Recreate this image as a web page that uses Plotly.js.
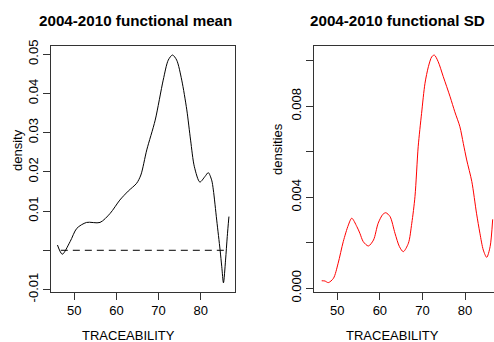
<!DOCTYPE html>
<html>
<head>
<meta charset="utf-8">
<script src="https://cdn.plot.ly/plotly-3.0.1.min.js"></script>
<style>
  html, body { margin: 0; padding: 0; background: #fff; overflow: hidden; }
  #chart { width: 510px; height: 342px; }
</style>
</head>
<body>
<div id="chart"></div>
<script>
// Functional mean of the 2004-2010 traceability densities
const meanX = [46.0, 47.15, 49.0, 50.6, 52.9, 56.1, 58.5, 60.8, 62.8, 64.8, 65.8, 67.2, 69.2,
  71.1, 72.3, 73.3, 74.3, 75.5, 76.7, 77.6, 78.5, 79.8, 81.0, 81.8, 82.6, 83.0, 83.8, 84.6,
  85.0, 85.4, 85.9, 86.3, 86.7];
const meanY = [0.00135, -0.0010, 0.0022, 0.0056, 0.0071, 0.0071, 0.0094, 0.0128, 0.0151, 0.0171,
  0.0192, 0.0256, 0.0332, 0.0434, 0.0485, 0.0498, 0.0485, 0.0434, 0.0358, 0.0281, 0.0213, 0.0174,
  0.0188, 0.0198, 0.0179, 0.0154, 0.0077, 0.0001, -0.0042, -0.0083, -0.0025, 0.0035, 0.0086];

// Reference line at zero density
const zeroX = [46.8, 86.2];
const zeroY = [0, 0];

// Functional standard deviation
const sdX = [46.34, 47.1, 47.9, 49.1, 50.2, 51.4, 52.6, 53.4, 54.6, 55.3, 56.1, 57.3, 58.5, 59.6,
  60.7, 61.4, 62.4, 63.55, 64.6, 65.5, 66.7, 67.5, 68.25, 69.0, 69.8, 70.6, 71.4, 72.2, 72.8,
  73.7, 74.9, 76.5, 77.6, 78.8, 79.6, 80.4, 81.6, 82.7, 83.5, 84.3, 85.1, 85.9, 86.5];
const sdY = [0.00033, 0.00032, 0.00025, 0.00044, 0.0011, 0.00205, 0.00278, 0.00308, 0.00271,
  0.00242, 0.00205, 0.00186, 0.00212, 0.00286, 0.00325, 0.00332, 0.00315, 0.00242, 0.00183,
  0.00161, 0.00198, 0.00286, 0.00403, 0.00622, 0.00769, 0.00901, 0.00974, 0.01018, 0.01025,
  0.00996, 0.0093, 0.00842, 0.00776, 0.0071, 0.00637, 0.00564, 0.00469, 0.0033, 0.00242,
  0.00168, 0.00136, 0.00183, 0.00303];

// Tick marks and labels
const xTicks = [50, 60, 70, 80];
const meanTicks = [-0.01, 0, 0.01, 0.02, 0.03, 0.04, 0.05];
const meanTickText = ['-0.01', '', '0.01', '0.02', '0.03', '0.04', '0.05'];
const sdTicks = [0, 0.002, 0.004, 0.006, 0.008, 0.010];
const sdTickText = ['0.000', '', '0.004', '', '0.008', ''];

const W = 510, H = 342;
const px = v => v / W;
const py = v => 1 - v / H;
const FONT = 'Liberation Sans, Arial, Helvetica, sans-serif';
const INK = '#333333';

function xAxis(domain, range) {
  return {
    domain: domain, range: range, tickvals: xTicks, ticktext: xTicks.map(String),
    ticks: 'outside', ticklen: 7, tickcolor: INK, tickwidth: 1,
    showline: true, mirror: true, linecolor: INK, linewidth: 1,
    showgrid: false, zeroline: false, fixedrange: true,
    tickfont: { family: FONT, size: 13, color: '#000' }
  };
}
function yAxis(domain, range, vals, text) {
  return {
    domain: domain, range: range, tickvals: vals, ticktext: text, tickangle: -90,
    ticks: 'outside', ticklen: 7, tickcolor: INK, tickwidth: 1,
    showline: true, mirror: true, linecolor: INK, linewidth: 1,
    showgrid: false, zeroline: false, fixedrange: true,
    tickfont: { family: FONT, size: 13, color: '#000' }
  };
}

const traces = [
  { x: meanX, y: meanY, xaxis: 'x', yaxis: 'y', mode: 'lines',
    line: { color: '#000', width: 1, shape: 'spline', smoothing: 0.8 }, hoverinfo: 'skip' },
  { x: zeroX, y: zeroY, xaxis: 'x', yaxis: 'y', mode: 'lines',
    line: { color: '#000', width: 1, dash: '7px,5px' }, hoverinfo: 'skip' },
  { x: sdX, y: sdY, xaxis: 'x2', yaxis: 'y2', mode: 'lines',
    line: { color: '#ff0000', width: 1, shape: 'spline', smoothing: 0.8 }, hoverinfo: 'skip' }
];

const yDom = [1 - 291.7 / H, 1 - 46 / H];

function label(text, x, y, opts) {
  return Object.assign({
    text: text, xref: 'paper', yref: 'paper', x: px(x), y: py(y),
    xanchor: 'center', yanchor: 'middle', showarrow: false,
    font: { family: FONT, size: 13, color: '#000' }
  }, opts || {});
}

const layout = {
  width: W, height: H,
  margin: { l: 0, r: 0, t: 0, b: 0 },
  paper_bgcolor: '#fff', plot_bgcolor: '#fff',
  showlegend: false,
  xaxis: xAxis([51 / W, 235 / W], [44.47, 88.14]),
  yaxis: yAxis(yDom, [-0.01056, 0.0521], meanTicks, meanTickText),
  xaxis2: Object.assign(xAxis([314 / W, 500 / W], [44.53, 88.22]), { anchor: 'y2' }),
  yaxis2: Object.assign(yAxis(yDom, [-0.00015, 0.01065], sdTicks, sdTickText), { anchor: 'x2' }),
  annotations: [
    label('<b>2004-2010 functional mean</b>', 135.5, 20, { font: { family: FONT, size: 15.2, color: '#000' } }),
    label('<b>2004-2010 functional SD</b>', 397, 20, { font: { family: FONT, size: 15.2, color: '#000' } }),
    label('density', 17, 150, { textangle: -90 }),
    label('densities', 278, 149, { textangle: -90 }),
    label('TRACEABILITY', 128.5, 335),
    label('TRACEABILITY', 392.5, 335)
  ]
};
layout.xaxis.anchor = 'y';
layout.yaxis.anchor = 'x';

Plotly.newPlot('chart', traces, layout, { staticPlot: true, displayModeBar: false });
</script>
</body>
</html>
